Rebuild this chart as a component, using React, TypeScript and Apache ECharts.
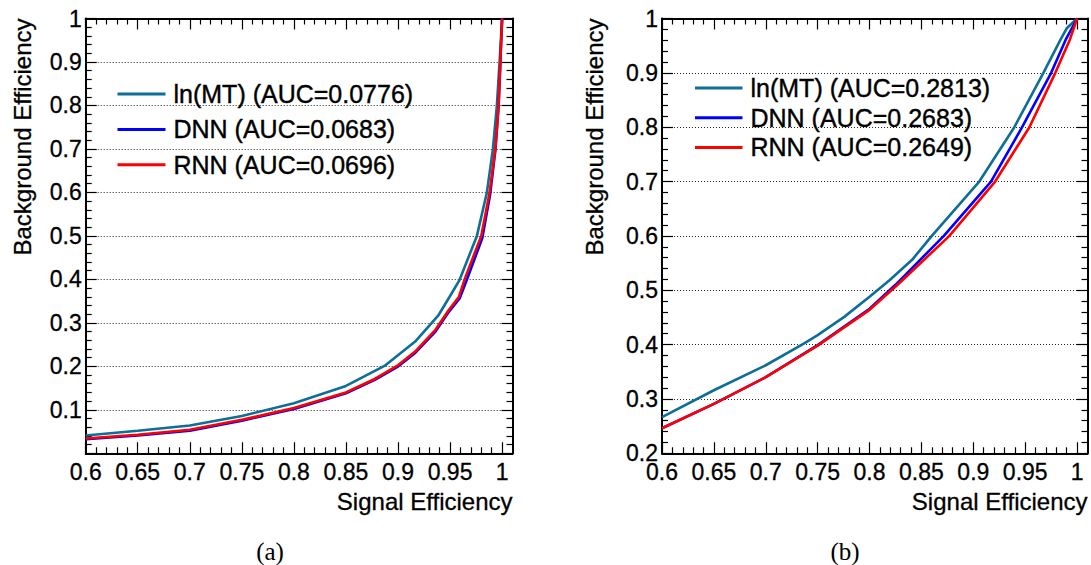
import React, { useEffect, useRef } from "react";
import * as echarts from "echarts";

// ---------- data ----------
// panel (a)
const lnMTaX = [0.6, 0.65, 0.7, 0.75, 0.8, 0.85, 0.887, 0.9165, 0.939, 0.9496, 0.9592, 0.9758, 0.9854, 0.9912, 0.995, 0.9976, 1.0];
const lnMTaY = [0.041, 0.052, 0.064, 0.086, 0.115, 0.155, 0.201, 0.257, 0.318, 0.36, 0.399, 0.5, 0.6, 0.7, 0.8, 0.9, 1.0];
const dnnAX = [0.6, 0.65, 0.7, 0.75, 0.8, 0.85, 0.8777, 0.9003, 0.9165, 0.936, 0.949, 0.9592, 0.9655, 0.981, 0.9885, 0.9937, 0.9967, 0.9984, 1.0];
const dnnAY = [0.0325, 0.041, 0.052, 0.075, 0.102, 0.138, 0.169, 0.2, 0.231, 0.28, 0.326, 0.356, 0.395, 0.495, 0.595, 0.7, 0.8, 0.9, 1.0];
const rnnAX = [0.6, 0.65, 0.7, 0.75, 0.8, 0.85, 0.8777, 0.9003, 0.9165, 0.936, 0.949, 0.9586, 0.964, 0.98, 0.988, 0.9935, 0.9966, 0.9983, 1.0];
const rnnAY = [0.034, 0.0425, 0.054, 0.077, 0.104, 0.14, 0.171, 0.203, 0.234, 0.284, 0.33, 0.36, 0.4, 0.5, 0.6, 0.7, 0.8, 0.9, 1.0];

// panel (b)
const lnMTbX = [0.6, 0.65, 0.7, 0.7366, 0.75, 0.7756, 0.8, 0.8195, 0.841, 0.86, 0.9057, 0.9395, 0.9675, 0.984, 0.99, 1.0];
const lnMTbY = [0.2665, 0.316, 0.362, 0.402, 0.4174, 0.451, 0.488, 0.519, 0.556, 0.6, 0.7, 0.8, 0.9, 0.961, 0.982, 1.0];
const dnnBX = [0.6, 0.65, 0.7, 0.75, 0.8, 0.825, 0.8716, 0.917, 0.947, 0.975, 0.989, 1.0];
const dnnBY = [0.246, 0.291, 0.34, 0.399, 0.466, 0.51, 0.6, 0.7, 0.8, 0.9, 0.961, 1.0];
const rnnBX = [0.6, 0.65, 0.7, 0.75, 0.8, 0.827, 0.8769, 0.921, 0.954, 0.979, 0.993, 1.0];
const rnnBY = [0.246, 0.291, 0.34, 0.398, 0.464, 0.51, 0.6, 0.7, 0.8, 0.9, 0.961, 1.0];

const namesA = ["ln(MT) (AUC=0.0776)", "DNN (AUC=0.0683)", "RNN (AUC=0.0696)"];
const namesB = ["ln(MT) (AUC=0.2813)", "DNN (AUC=0.2683)", "RNN (AUC=0.2649)"];

const xMajorTicks = [0.6, 0.65, 0.7, 0.75, 0.8, 0.85, 0.9, 0.95, 1.0];
const xTitle = "Signal Efficiency";
const yTitle = "Background Efficiency";
const captions = ["(a)", "(b)"];

const COLORS = ["#0d6e98", "#0000ff", "#ff0000"];
const FONT = "'Liberation Sans', Arial, Helvetica, sans-serif";
const SERIF = "'Liberation Serif', 'DejaVu Serif', serif";

function zip(xs: number[], ys: number[]) {
  return xs.map((x, i) => [x, ys[i]]);
}

function minorOf(majors: number[]) {
  const out: number[] = [];
  for (let i = 0; i < majors.length - 1; i++) {
    const a = majors[i];
    const b = majors[i + 1];
    for (let k = 1; k < 5; k++) out.push(+(a + ((b - a) * k) / 5).toFixed(4));
  }
  return out;
}

const xMinorTicks = minorOf(xMajorTicks);

export default function App() {
  const ref = useRef<HTMLDivElement>(null);

  useEffect(() => {
    if (!ref.current) return;
    const chart = echarts.init(ref.current, null, { renderer: "svg" });

    const grids = [
      { left: 85.7, top: 18.5, width: 426.8, height: 434.8 },
      { left: 662, top: 18.5, width: 425.5, height: 434.8 },
    ];
    const yRanges = [
      { min: 0, max: 1, showMin: false },
      { min: 0.2, max: 1, showMin: true },
    ];

    const tickLabel = {
      fontSize: 23,
      fontFamily: FONT,
      color: "#000",
      textBorderColor: "#000",
      textBorderWidth: 0.3,
    };

    const xAxes: any[] = [];
    const yAxes: any[] = [];
    grids.forEach((_, gi) => {
      const base = {
        gridIndex: gi,
        type: "value",
        min: 0.6,
        max: 1.01,
        splitLine: { show: false },
      };
      xAxes.push({
        ...base,
        position: "bottom",
        axisLine: { show: true, onZero: false, lineStyle: { color: "#000", width: 2 } },
        axisTick: { show: true, inside: true, length: 11, customValues: xMajorTicks, lineStyle: { color: "#000", width: 1.2 } },
        axisLabel: {
          show: true,
          customValues: xMajorTicks,
          formatter: (v: number) => String(+(+v).toFixed(2)),
          ...tickLabel,
          lineHeight: 18,
          margin: 10,
        },
      });
      xAxes.push({
        ...base,
        position: "bottom",
        axisLine: { show: false, onZero: false },
        axisTick: { show: true, inside: true, length: 6, customValues: xMinorTicks, lineStyle: { color: "#000", width: 1.2 } },
        axisLabel: { show: false },
      });
      xAxes.push({
        ...base,
        position: "top",
        axisLine: { show: true, onZero: false, lineStyle: { color: "#000", width: 2 } },
        axisTick: { show: true, inside: true, length: 11, customValues: xMajorTicks, lineStyle: { color: "#000", width: 1.2 } },
        axisLabel: { show: false },
      });
      xAxes.push({
        ...base,
        position: "top",
        axisLine: { show: false, onZero: false },
        axisTick: { show: true, inside: true, length: 6, customValues: xMinorTicks, lineStyle: { color: "#000", width: 1.2 } },
        axisLabel: { show: false },
      });

      const yr = yRanges[gi];
      const ybase = {
        gridIndex: gi,
        type: "value",
        min: yr.min,
        max: yr.max,
        interval: 0.1,
      };
      yAxes.push({
        ...ybase,
        position: "left",
        axisLine: { show: true, onZero: false, lineStyle: { color: "#000", width: 2 } },
        axisTick: { show: true, inside: true, length: 11, lineStyle: { color: "#000", width: 1.2 } },
        minorTick: { show: true, splitNumber: 5, length: 6, lineStyle: { color: "#000", width: 1.2 } },
        splitLine: { show: true, lineStyle: { color: "#222", width: 1, type: [1, 2] } },
        axisLabel: {
          show: true,
          showMinLabel: yr.showMin,
          showMaxLabel: true,
          formatter: (v: number) => String(+(+v).toFixed(2)),
          ...tickLabel,
          lineHeight: 16,
          margin: 4,
        },
      });
      yAxes.push({
        ...ybase,
        position: "right",
        axisLine: { show: true, onZero: false, lineStyle: { color: "#000", width: 2 } },
        axisTick: { show: true, inside: true, length: 11, lineStyle: { color: "#000", width: 1.2 } },
        minorTick: { show: true, splitNumber: 5, length: 6, lineStyle: { color: "#000", width: 1.2 } },
        splitLine: { show: false },
        axisLabel: { show: false },
      });
    });

    const seriesData = [
      { name: namesA[0], data: zip(lnMTaX, lnMTaY), g: 0, c: 0 },
      { name: namesA[1], data: zip(dnnAX, dnnAY), g: 0, c: 1 },
      { name: namesA[2], data: zip(rnnAX, rnnAY), g: 0, c: 2 },
      { name: namesB[0], data: zip(lnMTbX, lnMTbY), g: 1, c: 0 },
      { name: namesB[1], data: zip(dnnBX, dnnBY), g: 1, c: 1 },
      { name: namesB[2], data: zip(rnnBX, rnnBY), g: 1, c: 2 },
    ];

    const series = seriesData.map((s) => ({
      type: "line",
      name: s.name,
      xAxisIndex: s.g * 4,
      yAxisIndex: s.g * 2,
      data: s.data,
      showSymbol: false,
      symbol: "none",
      color: COLORS[s.c],
      lineStyle: { color: COLORS[s.c], width: 2.6 },
      emphasis: { disabled: true },
      z: 3 + s.c,
    }));

    const legendText = {
      fontSize: 25,
      fontFamily: FONT,
      color: "#000",
      lineHeight: 24,
      padding: [0, 0, 0, 3],
      textBorderColor: "#000",
      textBorderWidth: 0.4,
    };

    const titleStyle = { fontSize: 24, fontFamily: FONT, fill: "#000", stroke: "#000", lineWidth: 0.3 };

    chart.setOption({
      animation: false,
      backgroundColor: "#fff",
      grid: grids.map((g) => ({ ...g, containLabel: false })),
      xAxis: xAxes,
      yAxis: yAxes,
      legend: [
        {
          data: namesA,
          orient: "vertical",
          left: 117.5,
          top: 81.3,
          padding: 0,
          itemWidth: 48,
          itemHeight: 3,
          itemGap: 10,
          icon: "rect",
          selectedMode: false,
          textStyle: legendText,
        },
        {
          data: namesB,
          orient: "vertical",
          left: 695,
          top: 75.3,
          padding: 0,
          itemWidth: 47.5,
          itemHeight: 3,
          itemGap: 4.3,
          icon: "rect",
          selectedMode: false,
          textStyle: legendText,
        },
      ],
      graphic: [
        { type: "text", x: 512.5, y: 501.5, style: { ...titleStyle, text: xTitle, align: "right", verticalAlign: "middle" } },
        { type: "text", x: 1087.5, y: 501.5, style: { ...titleStyle, text: xTitle, align: "right", verticalAlign: "middle" } },
        { type: "text", x: 22.4, y: 18.5, rotation: Math.PI / 2, style: { ...titleStyle, text: yTitle, align: "right", verticalAlign: "middle" } },
        { type: "text", x: 594.2, y: 18.5, rotation: Math.PI / 2, style: { ...titleStyle, text: yTitle, align: "right", verticalAlign: "middle" } },
        { type: "text", x: 270, y: 551, style: { text: captions[0], fontSize: 25, fontFamily: SERIF, fill: "#000", align: "center", verticalAlign: "middle" } },
        { type: "text", x: 845, y: 551, style: { text: captions[1], fontSize: 25, fontFamily: SERIF, fill: "#000", align: "center", verticalAlign: "middle" } },
      ],
      series,
    });

    return () => chart.dispose();
  }, []);

  return (
    <div
      ref={ref}
      style={{ position: "fixed", left: 0, top: 0, width: 1091, height: 565, background: "#fff" }}
    />
  );
}
